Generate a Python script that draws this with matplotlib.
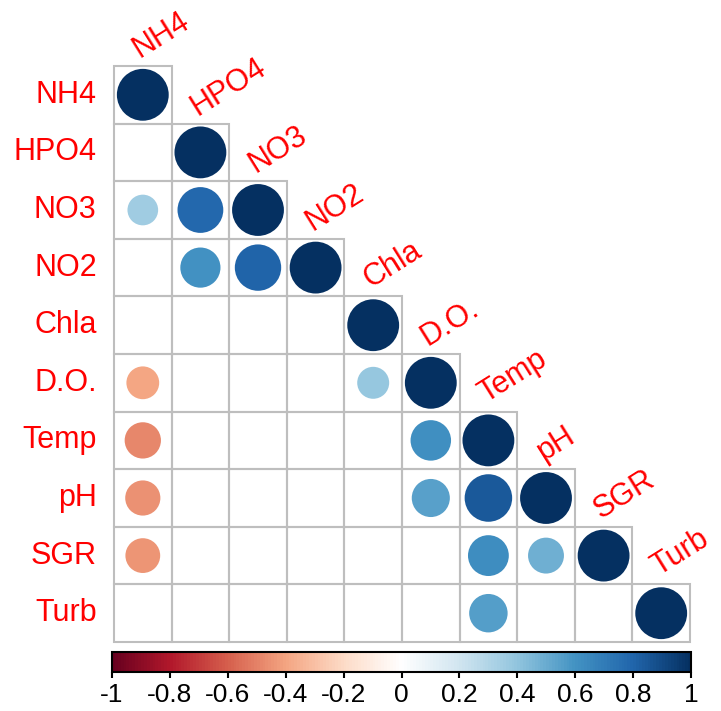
import numpy as np
import matplotlib.pyplot as plt
from matplotlib.colors import LinearSegmentedColormap
from matplotlib.patches import Circle
from matplotlib.cm import ScalarMappable
from matplotlib.colors import Normalize

plt.rcParams['font.family'] = ['Liberation Sans', 'DejaVu Sans']

# variable names
names = ["NH4", "HPO4", "NO3", "NO2", "Chla", "D.O.", "Temp", "pH", "SGR", "Turb"]

# lower-triangle correlations (row by row), nan = not shown
nan = np.nan
r_NH4 = [1.0]
r_HPO4 = [nan, 1.0]
r_NO3 = [0.35, 0.78, 1.0]
r_NO2 = [nan, 0.60, 0.80, 1.0]
r_Chla = [nan, nan, nan, nan, 1.0]
r_DO = [-0.40, nan, nan, nan, 0.38, 1.0]
r_Temp = [-0.49, nan, nan, nan, nan, 0.61, 1.0]
r_pH = [-0.46, nan, nan, nan, nan, 0.54, 0.84, 1.0]
r_SGR = [-0.45, nan, nan, nan, nan, nan, 0.62, 0.48, 1.0]
r_Turb = [nan, nan, nan, nan, nan, nan, 0.55, nan, nan, 1.0]
rows = [r_NH4, r_HPO4, r_NO3, r_NO2, r_Chla, r_DO, r_Temp, r_pH, r_SGR, r_Turb]

# RdBu palette as used by corrplot
col2 = ["#67001F", "#B2182B", "#D6604D", "#F4A582", "#FDDBC7", "#FFFFFF",
        "#D1E5F0", "#92C5DE", "#4393C3", "#2166AC", "#053061"]
cmap = LinearSegmentedColormap.from_list("rdbu", col2, N=200)
norm = Normalize(-1, 1)

W, H = 721, 711
fig = plt.figure(figsize=(W / 100, H / 100), dpi=100)

n = len(names)
ax = fig.add_axes([114 / W, (H - 642) / H, 576 / W, 576 / H])
ax.set_xlim(0, n)
ax.set_ylim(n, 0)
ax.axis("off")

grid_col = "#BEBEBE"
for i, row in enumerate(rows):
    for j, r in enumerate(row):
        ax.add_patch(plt.Rectangle((j, i), 1, 1, fill=False, edgecolor=grid_col,
                                   lw=1.5, clip_on=False, zorder=1))
        if not np.isnan(r):
            ax.add_patch(Circle((j + 0.5, i + 0.5), 0.45 * np.sqrt(abs(r)),
                                facecolor=cmap(norm(r)), edgecolor="none", zorder=2))

# row labels on the left, column labels along the diagonal
for i, name in enumerate(names):
    ax.text(-0.3, i + 0.5, name, color="red", fontsize=22, ha="right", va="center")
    ax.text(i + 0.45, i - 0.14, name, color="red", fontsize=22, rotation=32,
            rotation_mode="anchor", ha="left", va="baseline")

# colour legend
cax = fig.add_axes([112 / W, (H - 672) / H, 579 / W, 20 / H])
cb = fig.colorbar(ScalarMappable(norm=norm, cmap=cmap), cax=cax, orientation="horizontal")
ticks = np.round(np.arange(-1, 1.01, 0.2), 1)
cb.set_ticks(ticks)
cb.set_ticklabels(["%g" % t if abs(t) > 1e-9 else "0" for t in ticks])
cb.ax.tick_params(labelsize=19, length=4, width=1.5, pad=4)
cb.outline.set_linewidth(1.5)

fig.savefig("out.png", dpi=100)
